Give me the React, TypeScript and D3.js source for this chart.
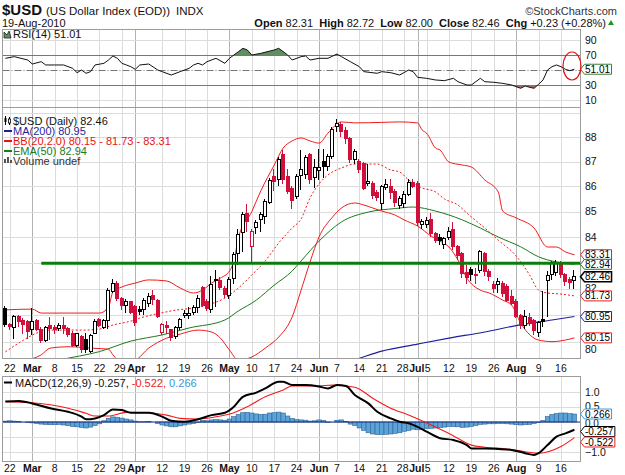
import React, { useRef, useEffect } from 'react'
import * as d3 from 'd3'

// one entry per trading session, 19-Feb-2010 .. 19-Aug-2010
const opens = [
  81.27, 80.65, 80.52, 80.94, 80.80, 80.78, 80.45, 80.80, 80.48, 80.05,
  80.60, 80.55, 80.50, 80.60, 80.50, 80.32, 79.85, 80.20, 80.10, 79.65,
  80.33, 80.85, 80.55, 80.80, 81.90, 82.20, 81.62, 81.35, 81.50, 81.33,
  81.20, 81.20, 81.45, 81.75, 81.55, 80.35, 80.62, 80.45, 80.20, 80.55,
  80.97, 80.98, 81.12, 81.28, 82.05, 81.50, 81.22, 82.30, 82.33, 82.00,
  81.75, 82.40, 83.35, 84.16, 84.92, 83.64, 84.38, 84.69, 84.82, 85.35,
  86.40, 86.27, 87.28, 86.40, 85.93, 85.60, 86.45, 86.47, 87.28, 86.35,
  86.62, 87.00, 86.82, 87.22, 88.42, 88.50, 88.25, 87.95, 87.10, 87.00,
  86.93, 86.10, 86.10, 85.75, 85.30, 85.95, 86.00, 85.78, 85.25, 85.30,
  85.68, 86.15, 86.10, 84.50, 84.50, 84.69, 84.12, 84.00, 83.70, 84.00,
  84.28, 83.62, 83.36, 82.62, 82.75, 82.55, 82.72, 83.36, 82.65, 82.15,
  82.15, 82.20, 82.10, 81.70, 81.50, 81.00, 80.62, 80.93, 80.80, 80.35,
  80.85, 82.30, 82.55, 82.62, 83.00, 82.53, 82.35, 82.31,
]
const highs = [
  81.35, 80.72, 81.02, 81.00, 80.90, 80.82, 81.28, 80.85, 80.55, 80.60,
  80.93, 80.65, 80.70, 80.95, 80.55, 80.40, 80.35, 80.25, 80.35, 80.30,
  80.85, 80.90, 80.85, 82.05, 82.38, 82.30, 81.70, 81.60, 81.55, 81.40,
  81.35, 81.65, 81.85, 81.97, 81.60, 80.70, 80.80, 80.50, 80.60, 80.90,
  81.20, 81.30, 81.40, 81.75, 82.10, 81.60, 82.50, 82.72, 82.45, 82.10,
  82.45, 83.40, 84.30, 85.00, 85.30, 84.30, 84.65, 85.00, 85.50, 86.35,
  86.70, 87.20, 87.45, 86.70, 86.00, 86.50, 87.45, 87.25, 87.35, 87.10,
  87.50, 87.50, 87.30, 88.40, 88.72, 88.60, 88.40, 88.00, 87.50, 87.10,
  87.00, 86.90, 86.20, 85.85, 86.05, 86.30, 86.30, 85.90, 85.60, 85.80,
  86.30, 86.30, 86.20, 84.70, 84.80, 84.95, 84.20, 84.10, 84.00, 84.40,
  84.60, 83.70, 83.40, 82.90, 82.85, 82.80, 83.50, 83.40, 82.75, 82.30,
  82.40, 82.30, 82.20, 81.95, 81.60, 81.05, 81.20, 81.10, 80.85, 80.80,
  81.90, 82.70, 83.05, 83.10, 83.05, 82.60, 82.45, 82.72,
]
const lows = [
  80.55, 80.45, 80.10, 80.55, 80.30, 80.10, 80.25, 80.40, 79.95, 80.00,
  80.07, 80.30, 80.40, 80.30, 80.20, 79.80, 79.80, 79.60, 79.58, 79.60,
  80.30, 80.55, 80.50, 80.50, 81.85, 81.55, 81.20, 81.10, 81.05, 80.60,
  81.00, 81.00, 81.30, 81.40, 80.90, 80.25, 80.30, 80.05, 80.10, 80.45,
  80.90, 80.85, 81.00, 81.10, 81.30, 81.15, 81.10, 81.30, 81.95, 81.65,
  81.60, 82.20, 82.90, 83.40, 84.20, 82.95, 84.10, 84.20, 84.50, 85.30,
  85.80, 86.00, 86.10, 85.70, 85.10, 85.50, 85.85, 86.30, 86.10, 85.95,
  86.27, 86.35, 86.60, 87.10, 88.20, 88.00, 87.70, 86.95, 86.90, 86.55,
  85.85, 86.00, 85.50, 85.40, 85.05, 85.85, 85.50, 85.20, 85.10, 85.15,
  85.60, 85.95, 84.45, 84.30, 84.35, 84.00, 83.75, 83.70, 83.55, 83.90,
  83.50, 83.10, 82.40, 82.20, 82.30, 82.20, 82.60, 82.50, 82.30, 81.85,
  81.83, 81.70, 81.50, 81.40, 80.90, 80.50, 80.50, 80.60, 80.25, 80.20,
  80.55, 80.95, 82.35, 82.50, 82.40, 82.10, 82.00, 82.00,
]
const closes = [
  80.64, 80.58, 80.96, 80.78, 80.64, 80.40, 80.77, 80.48, 80.05, 80.55,
  80.50, 80.45, 80.60, 80.50, 80.28, 79.85, 80.30, 79.70, 79.72, 80.25,
  80.77, 80.63, 80.80, 81.95, 82.20, 81.62, 81.35, 81.50, 81.10, 80.72,
  81.15, 81.55, 81.70, 81.60, 80.95, 80.64, 80.52, 80.15, 80.55, 80.85,
  81.05, 81.08, 81.28, 81.65, 81.38, 81.25, 82.15, 82.36, 82.05, 81.80,
  82.36, 83.33, 84.10, 84.90, 84.62, 84.22, 84.55, 84.88, 85.38, 86.25,
  86.20, 87.10, 86.27, 85.80, 85.45, 86.40, 86.68, 87.15, 86.27, 86.75,
  86.78, 86.80, 87.22, 88.30, 88.56, 88.22, 87.92, 87.10, 87.42, 86.68,
  85.93, 86.20, 85.63, 85.55, 86.00, 86.07, 85.75, 85.35, 85.50, 85.68,
  86.17, 86.00, 84.55, 84.62, 84.65, 84.12, 83.85, 83.88, 83.95, 84.20,
  83.62, 83.30, 82.60, 82.45, 82.53, 82.50, 83.42, 82.65, 82.47, 82.02,
  82.28, 81.83, 81.57, 81.45, 80.95, 80.62, 80.94, 80.70, 80.43, 80.72,
  80.75, 82.50, 82.98, 83.00, 82.55, 82.28, 82.23, 82.46,
]

// overlays as [session index, value]
const bbUpper = [
  [0, 81.2], [6, 81.23], [8, 81.08], [14, 81.08], [21, 81.08], [23, 81.3], [24, 81.88], [26, 82.07],
  [29, 82.22], [32, 82.34], [36, 82.3], [39, 82.03], [42, 81.84], [44, 81.95], [46, 82.22], [48, 82.41],
  [50, 82.68], [51, 83.07], [52, 83.96], [55, 85.0], [57, 85.82], [60, 86.86], [62, 87.55], [64, 87.84],
  [66, 87.96], [68, 87.84], [70, 87.75], [72, 88.16], [75, 88.62], [78, 88.58], [84, 88.6], [88, 88.62],
  [92, 88.58], [93, 88.29], [94, 88.16], [96, 87.55], [97, 87.47], [99, 86.98], [102, 86.86], [104, 86.78],
  [107, 86.26], [110, 85.78], [111, 85.02], [114, 84.75], [118, 84.35], [121, 83.61], [123, 83.61],
  [125, 83.42], [127, 83.31],
]
const bbMid = [
  [0, 79.63], [3, 79.96], [7, 80.33], [9, 80.44], [12, 80.44], [17, 80.44], [21, 80.48], [24, 80.63],
  [28, 80.78], [30, 80.89], [37, 81.16], [45, 81.38], [49, 81.65], [52, 82.03], [55, 82.53], [58, 83.07],
  [61, 83.77], [64, 84.35], [66, 84.71], [68, 85.54], [70, 86.1], [72, 86.46], [75, 86.74], [78, 86.9],
  [83, 86.9], [86, 86.66], [88, 86.58], [90, 86.26], [93, 85.94], [96, 85.78], [98, 85.5], [101, 85.26],
  [103, 84.94], [107, 84.35], [110, 83.88], [114, 83.26], [117, 82.53], [119, 81.95], [121, 81.84],
  [124, 81.8], [127, 81.73],
]
const bbLower = [
  [0, 79.2], [4, 79.3], [8, 79.52], [10, 79.77], [14, 79.82], [20, 79.76], [23, 79.73], [24, 79.52],
  [26, 79.25], [29, 79.33], [32, 79.77], [36, 80.14], [39, 80.29], [43, 80.44], [46, 80.37], [48, 80.14],
  [50, 79.7], [52, 79.33], [55, 79.44], [58, 79.77], [61, 80.18], [64, 80.93], [66, 81.95], [68, 83.03],
  [70, 84.0], [73, 84.78], [75, 85.14], [78, 85.34], [80, 85.26], [82, 85.14], [84, 85.02], [87, 84.86],
  [89, 84.67], [92, 84.43], [95, 84.04], [97, 83.84], [99, 83.61], [101, 83.11], [103, 82.41], [106, 81.95],
  [108, 81.84], [111, 81.57], [113, 81.38], [115, 80.71], [118, 80.14], [119, 80.07], [122, 80.01],
  [125, 80.07], [127, 80.15],
]
const ema50 = [
  [8, 79.18], [12, 79.33], [21, 79.64], [28, 80.03], [35, 80.26], [41, 80.52], [49, 80.82], [52, 81.16],
  [56, 81.57], [60, 82.14], [64, 82.68], [66, 83.07], [70, 83.84], [75, 84.59], [81, 84.98], [87, 85.12],
  [91, 85.18], [96, 85.02], [102, 84.67], [106, 84.35], [110, 84.0], [115, 83.62], [119, 83.23],
  [123, 83.03], [127, 82.94],
]
const ma200 = [
  [70, 79.06], [77, 79.29], [84, 79.66], [92, 79.92], [99, 80.14], [107, 80.37], [114, 80.61],
  [122, 80.82], [127, 80.95],
]
const rsi14 = [
  [0, 65.6], [2, 67.8], [5, 63.3], [6, 58], [8, 61.1], [9, 56.7], [11, 56.7], [13, 56.7], [15, 52.2],
  [16, 46.4], [17, 50], [18, 45.6], [19, 47.8], [20, 56.7], [22, 58.9], [23, 63.3], [24, 68.7], [25, 65.6],
  [26, 58.9], [27, 56.7], [28, 54.4], [29, 50.9], [30, 56.7], [32, 58], [34, 50], [35, 47.8], [37, 43.3],
  [39, 47.8], [41, 52.2], [42, 56.7], [43, 58.9], [44, 56.7], [45, 61.1], [47, 65.6], [49, 58.9],
  [50, 65.6], [52, 74.4], [53, 78.9], [54, 76.7], [55, 70], [57, 72.2], [60, 76.7], [61, 78.9], [63, 70],
  [64, 63.3], [66, 67.8], [67, 68.7], [68, 63.3], [70, 65.6], [72, 65.6], [74, 71.3], [75, 67.8],
  [77, 61.1], [79, 54.4], [80, 47.8], [83, 45.6], [84, 47.8], [86, 46.4], [88, 43.3], [90, 50], [91, 47.8],
  [92, 40.2], [94, 38.9], [96, 36.7], [98, 35.8], [100, 38.9], [101, 34.4], [103, 30], [104, 30],
  [106, 38.9], [107, 34.4], [109, 33.6], [111, 32.2], [113, 30], [115, 25.6], [116, 28.7], [117, 26.9],
  [118, 25.6], [119, 30.9], [120, 36.7], [121, 50], [122, 54.4], [123, 56.7], [124, 54.4], [125, 50.9],
  [126, 49.1], [127, 51.01],
]
const macdLine = [
  [0, 0.68], [3, 0.7], [6, 0.62], [10, 0.46], [14, 0.34], [17, 0.18], [18, 0.09], [20, 0.12], [22, 0.23],
  [24, 0.42], [26, 0.4], [28, 0.31], [32, 0.31], [35, 0.18], [37, 0.04], [40, 0.01], [43, 0.09], [46, 0.23],
  [49, 0.31], [51, 0.51], [53, 0.84], [56, 0.98], [58, 1.12], [61, 1.34], [62, 1.34], [64, 1.23], [67, 1.23],
  [70, 1.18], [72, 1.12], [74, 1.23], [76, 1.2], [78, 0.9], [81, 0.62], [83, 0.34], [86, 0.12], [88, 0.01],
  [90, -0.04], [92, -0.16], [94, -0.32], [97, -0.54], [100, -0.6], [103, -0.77], [104, -0.88], [107, -0.88],
  [110, -0.9], [113, -0.93], [116, -1.04], [118, -1.1], [119, -1.04], [121, -0.77], [123, -0.49],
  [125, -0.38], [127, -0.257],
]
const macdSignal = [
  [0, 0.68], [6, 0.64], [14, 0.46], [18, 0.29], [20, 0.2], [23, 0.2], [27, 0.32], [32, 0.31], [36, 0.23],
  [39, 0.12], [43, 0.1], [48, 0.2], [51, 0.31], [54, 0.51], [58, 0.84], [62, 1.07], [64, 1.2], [70, 1.2],
  [73, 1.23], [78, 1.16], [82, 0.79], [86, 0.46], [90, 0.23], [95, -0.1], [99, -0.38], [104, -0.77],
  [107, -0.84], [112, -0.9], [116, -0.99], [119, -1.04], [124, -0.82], [127, -0.522],
]
const macdHist = [
  0.03, 0.04, 0.03, 0.02, 0.00, -0.02, -0.03, -0.05, -0.07, -0.08,
  -0.09, -0.09, -0.08, -0.10, -0.12, -0.15, -0.16, -0.18, -0.20, -0.17,
  -0.12, -0.06, 0.04, 0.12, 0.17, 0.16, 0.13, 0.10, 0.07, 0.03,
  0.01, 0.01, 0.02, 0.00, -0.05, -0.10, -0.13, -0.16, -0.16, -0.13,
  -0.10, -0.07, -0.05, -0.02, 0.05, 0.04, 0.07, 0.08, 0.07, 0.06,
  0.10, 0.18, 0.25, 0.31, 0.32, 0.30, 0.27, 0.25, 0.26, 0.30,
  0.31, 0.33, 0.30, 0.20, 0.12, 0.08, 0.07, 0.06, 0.03, 0.04,
  0.07, 0.05, -0.02, 0.00, 0.06, 0.07, 0.02, -0.07, -0.12, -0.20,
  -0.28, -0.36, -0.40, -0.42, -0.42, -0.41, -0.40, -0.38, -0.36, -0.31,
  -0.28, -0.24, -0.26, -0.25, -0.22, -0.21, -0.20, -0.19, -0.17, -0.15,
  -0.15, -0.16, -0.18, -0.17, -0.15, -0.12, -0.08, -0.07, -0.06, -0.06,
  -0.05, -0.05, -0.06, -0.07, -0.09, -0.10, -0.09, -0.08, -0.05, -0.02,
  0.05, 0.18, 0.25, 0.28, 0.30, 0.30, 0.28, 0.266,
]

const supportLevel = 82.98
const supportStart = 8

const tickIdx = [1, 6, 11, 16, 21, 26, 29, 35, 40, 45, 50, 55, 60, 65, 70, 74, 79, 84, 89, 92, 94, 99, 104, 109, 114, 119, 124]
const tickText = ['22', 'Mar', '8', '15', '22', '29', 'Apr', '12', '19', '26', 'May', '10', '17', '24', 'Jun', '7', '14', '21', '28', 'Jul', '5', '12', '19', '26', 'Aug', '9', '16']
// price labels that are not covered by the value tags
const priceTicks = [80, 82, 84, 85, 86, 87, 88]
const priceGrid = [80, 81, 82, 83, 84, 85, 86, 87, 88, 89]
const rsiTicks = [10, 30, 70, 90]
const macdGrid = [-1, -0.5, 0, 0.5, 1]
const macdTicks = [-1, 0, 0.5, 1]

const FONT = 'Liberation Sans, Arial, Helvetica, sans-serif'
const CANDLE_RED = '#d0103a'
const BAND_RED = '#f01c1c'
const NAVY = '#1f1f9a'
const GREEN = '#1d7a1d'

// small horizontal shifts for date labels that crowd each other
const labelNudge: Record<number, number> = { 5: -2, 6: 1, 18: -1.5, 19: -0.8, 20: 1.2 }

export default function App() {
  const ref = useRef<SVGSVGElement>(null)

  useEffect(() => {
    const svg = d3.select(ref.current)
    svg.selectAll('*').remove()
    svg.attr('font-family', FONT)

    const L = 2.5, R = 580.5
    const panels = [
      { id: 'rsi', top: 29.5, bot: 107.5 },
      { id: 'main', top: 107.5, bot: 358.5 },
      { id: 'macd', top: 376.5, bot: 461.5 },
    ]

    const x = d3.scaleLinear().domain([0, 127]).range([5.4, 574.4])
    const yP = d3.scaleLog().domain([80, 88]).range([341.9, 137])
    const yR = d3.scaleLinear().domain([0, 100]).range([107.5, 32.5])
    const yM = d3.scaleLinear().domain([-1, 1]).range([452, 392])
    const gx = (i: number) => Math.round(x(i)) + 0.5
    const isMonth = (k: number) => isNaN(+tickText[k])

    svg.append('rect').attr('width', 625).attr('height', 475).attr('fill', '#fff')

    const defs = svg.append('defs')
    panels.forEach(p => {
      defs.append('clipPath').attr('id', 'clip-' + p.id)
        .append('rect').attr('x', L).attr('y', p.top).attr('width', R - L).attr('height', p.bot - p.top)
    })

    // grids
    const grid = svg.append('g').attr('shape-rendering', 'crispEdges')
    panels.forEach(p => {
      grid.append('g').selectAll('line').data(tickIdx).join('line')
        .attr('x1', d => gx(d)).attr('x2', d => gx(d))
        .attr('y1', p.top).attr('y2', p.bot)
        .attr('stroke', (d, k) => isMonth(k) ? '#b2b2b2' : '#dcdcdc')
    })
    grid.append('g').selectAll('line').data(priceGrid).join('line')
      .attr('x1', L).attr('x2', R)
      .attr('y1', d => Math.round(yP(d)) + 0.5).attr('y2', d => Math.round(yP(d)) + 0.5)
      .attr('stroke', '#dcdcdc')
    grid.append('g').selectAll('line').data([10, 90]).join('line')
      .attr('x1', L).attr('x2', R)
      .attr('y1', d => Math.round(yR(d)) + 0.5).attr('y2', d => Math.round(yR(d)) + 0.5)
      .attr('stroke', '#dcdcdc')
    grid.append('g').selectAll('line').data(macdGrid).join('line')
      .attr('x1', L).attr('x2', R)
      .attr('y1', d => Math.round(yM(d)) + 0.5).attr('y2', d => Math.round(yM(d)) + 0.5)
      .attr('stroke', '#dcdcdc')

    // ---- RSI panel
    const rsiG = svg.append('g').attr('clip-path', 'url(#clip-rsi)')
    const rsiArea = (base: number) => d3.area<number[]>()
      .x(d => x(d[0])).y0(yR(base)).y1(d => yR(d[1]))
    defs.append('clipPath').attr('id', 'rsi-hi').append('rect')
      .attr('x', L).attr('y', 29.5).attr('width', R - L).attr('height', yR(70) - 29.5)
    defs.append('clipPath').attr('id', 'rsi-lo').append('rect')
      .attr('x', L).attr('y', yR(30)).attr('width', R - L).attr('height', 107.5 - yR(30))
    rsiG.append('path').datum(rsi14).attr('d', rsiArea(70))
      .attr('fill', '#5f8f5f').attr('clip-path', 'url(#rsi-hi)')
    rsiG.append('path').datum(rsi14).attr('d', rsiArea(30))
      .attr('fill', '#a46a6a').attr('clip-path', 'url(#rsi-lo)')
    rsiG.selectAll('line.lvl').data([70, 30]).join('line')
      .attr('x1', L).attr('x2', R)
      .attr('y1', d => Math.round(yR(d)) + 0.5).attr('y2', d => Math.round(yR(d)) + 0.5)
      .attr('stroke', '#777').attr('shape-rendering', 'crispEdges')
    rsiG.append('line').attr('x1', L).attr('x2', R)
      .attr('y1', Math.round(yR(50)) + 0.5).attr('y2', Math.round(yR(50)) + 0.5)
      .attr('stroke', '#777').attr('stroke-dasharray', '7,2,1,2')
    rsiG.append('path').datum(rsi14)
      .attr('d', d3.line<number[]>().x(d => x(d[0])).y(d => yR(d[1])))
      .attr('fill', 'none').attr('stroke', '#111').attr('stroke-width', 1)

    // ---- main price panel
    const mainG = svg.append('g').attr('clip-path', 'url(#clip-main)')
    const pLine = d3.line<number[]>().x(d => x(d[0])).y(d => yP(d[1])).curve(d3.curveMonotoneX)
    mainG.append('path').datum(ma200).attr('d', pLine)
      .attr('fill', 'none').attr('stroke', NAVY).attr('stroke-width', 1.2)
    mainG.append('path').datum(ema50).attr('d', pLine)
      .attr('fill', 'none').attr('stroke', GREEN).attr('stroke-width', 1)
    mainG.append('path').datum(bbUpper).attr('d', pLine)
      .attr('fill', 'none').attr('stroke', BAND_RED).attr('stroke-width', 1)
    mainG.append('path').datum(bbLower).attr('d', pLine)
      .attr('fill', 'none').attr('stroke', BAND_RED).attr('stroke-width', 1)
    mainG.append('path').datum(bbMid).attr('d', pLine)
      .attr('fill', 'none').attr('stroke', BAND_RED).attr('stroke-width', 1).attr('stroke-dasharray', '2,2')

    const candles = d3.range(opens.length).map(i => ({
      i, o: opens[i], h: highs[i], l: lows[i], c: closes[i],
      red: i > 0 && closes[i] < closes[i - 1],
      hollow: closes[i] >= opens[i],
    }))
    const cg = mainG.append('g').attr('shape-rendering', 'crispEdges')
    cg.selectAll('line').data(candles).join('line')
      .attr('x1', d => Math.round(x(d.i)) - 0.5).attr('x2', d => Math.round(x(d.i)) - 0.5)
      .attr('y1', d => yP(d.h)).attr('y2', d => yP(d.l))
      .attr('stroke', d => d.red ? CANDLE_RED : '#000')
    cg.selectAll('rect').data(candles).join('rect')
      .attr('x', d => Math.round(x(d.i)) - 1.5)
      .attr('width', 3)
      .attr('y', d => yP(Math.max(d.o, d.c)))
      .attr('height', d => Math.max(1, yP(Math.min(d.o, d.c)) - yP(Math.max(d.o, d.c))))
      .attr('fill', d => d.hollow ? '#fff' : (d.red ? CANDLE_RED : '#000'))
      .attr('stroke', d => d.red ? CANDLE_RED : '#000')

    mainG.append('line')
      .attr('x1', x(supportStart)).attr('x2', R)
      .attr('y1', yP(supportLevel)).attr('y2', yP(supportLevel))
      .attr('stroke', '#0a7d0a').attr('stroke-width', 3.2)

    // ---- MACD panel
    const macdG = svg.append('g').attr('clip-path', 'url(#clip-macd)')
    const bw = x(1) - x(0)
    macdG.append('g').selectAll('rect').data(macdHist).join('rect')
      .attr('x', (d, i) => x(i) - bw / 2)
      .attr('width', bw)
      .attr('y', d => Math.min(yM(d), yM(0)))
      .attr('height', d => Math.abs(yM(d) - yM(0)))
      .attr('fill', '#5ba3d8').attr('stroke', '#2d6597').attr('stroke-width', 0.6)
    macdG.append('line').attr('x1', L).attr('x2', R)
      .attr('y1', yM(0)).attr('y2', yM(0)).attr('stroke', '#1a2f86').attr('stroke-width', 1.2)
    const mLine = d3.line<number[]>().x(d => x(d[0])).y(d => yM(d[1])).curve(d3.curveMonotoneX)
    macdG.append('path').datum(macdSignal).attr('d', mLine)
      .attr('fill', 'none').attr('stroke', '#f21c1c').attr('stroke-width', 1.1)
    macdG.append('path').datum(macdLine).attr('d', mLine)
      .attr('fill', 'none').attr('stroke', '#000').attr('stroke-width', 2)

    // panel borders
    svg.append('g').selectAll('rect').data(panels).join('rect')
      .attr('x', L).attr('y', d => d.top).attr('width', R - L).attr('height', d => d.bot - d.top)
      .attr('fill', 'none').attr('stroke', '#9c9c9c').attr('shape-rendering', 'crispEdges')

    // date labels under price panel and under MACD panel
    ;[372, 472].forEach(yb => {
      svg.append('g').selectAll('text').data(tickIdx).join('text')
        .attr('x', (d, k) => x(d) + (labelNudge[k] || 0)).attr('y', yb)
        .attr('text-anchor', 'middle').attr('font-size', 10.5)
        .attr('font-weight', (d, k) => isMonth(k) ? 'bold' : 'normal')
        .attr('fill', '#111')
        .text((d, k) => tickText[k])
    })

    // right-hand scale labels
    const right = svg.append('g').attr('font-size', 10.5).attr('fill', '#111')
    right.append('g').selectAll('text').data(priceTicks).join('text')
      .attr('x', 585).attr('y', d => d === 80 ? yP(d) + 11 : yP(d) + 3.5).text(d => d)
    right.append('g').selectAll('text').data(rsiTicks).join('text')
      .attr('x', 585).attr('y', d => yR(d) + 3.5).text(d => d)
    right.append('g').selectAll('text').data(macdTicks).join('text')
      .attr('x', 585).attr('y', d => d === 0 ? yM(d) + 4.5 : d === 0.5 ? yM(d) + 2.5 : yM(d) + 3.5)
      .attr('font-size', d => d === 0 ? 10 : 10.5)
      .text(d => d3.format('.1f')(d))

    // value tags on the right edge
    const tag = (yc: number, label: string, color: string, sw = 1) => {
      const g = svg.append('g')
      const path = g.append('path').attr('fill', '#fff').attr('stroke', color).attr('stroke-width', sw)
      const t = g.append('text').attr('x', 585).attr('y', yc + 3.5).attr('font-size', 10)
        .attr('fill', '#000').text(label)
      const w = (t.node() as SVGTextElement).getComputedTextLength()
      const x0 = 580.5, x1 = 585 + w + 1.5
      path.attr('d', `M${x0},${yc} L${x0 + 4},${yc - 5} H${x1} V${yc + 5} H${x0 + 4} Z`)
    }
    tag(yR(51.01), '51.01', '#3c7f3c')
    tag(yP(83.31), '83.31', BAND_RED)
    tag(yP(82.94), '82.94', GREEN)
    tag(yP(82.46), '82.46', '#000', 1.5)
    tag(yP(81.73), '81.73', BAND_RED)
    tag(yP(80.95), '80.95', NAVY)
    tag(yP(80.15), '80.15', BAND_RED)
    tag(yM(0.266), '0.266', '#3a9ad6')
    const tagLow = Math.max(yM(-0.257), 431.5)
    tag(tagLow, '-0.257', '#000')
    tag(Math.max(yM(-0.522), tagLow + 10.5), '-0.522', '#f01c1c')

    // red ring drawn round the latest RSI reading
    svg.append('ellipse').attr('cx', 572).attr('cy', 66).attr('rx', 9).attr('ry', 14)
      .attr('fill', 'none').attr('stroke', '#e41010').attr('stroke-width', 1.2)

    // header
    const head = svg.append('text').attr('x', 2).attr('y', 15).attr('fill', '#111')
    head.append('tspan').attr('font-size', 15).attr('font-weight', 'bold').text('$USD')
    head.append('tspan').attr('font-size', 11.5).attr('dx', 4).text('(US Dollar Index (EOD))')
    head.append('tspan').attr('font-size', 11.5).attr('dx', 6).text('INDX')
    svg.append('text').attr('x', 617).attr('y', 15).attr('text-anchor', 'end')
      .attr('font-size', 11).attr('fill', '#333').text('©StockCharts.com')
    svg.append('text').attr('x', 2).attr('y', 27).attr('font-size', 11).attr('fill', '#111').text('19-Aug-2010')

    const quote = svg.append('text').attr('x', 606).attr('y', 27).attr('text-anchor', 'end')
      .attr('font-size', 11).attr('fill', '#111').style('white-space', 'pre')
    const parts = [['Open', ' 82.31  '], ['High', ' 82.72  '], ['Low', ' 82.00  '], ['Close', ' 82.46  '], ['Chg', ' +0.23 (+0.28%)']]
    parts.forEach(([k, v]) => {
      quote.append('tspan').attr('font-weight', 'bold').text(k)
      quote.append('tspan').text(v)
    })
    svg.append('path').attr('d', 'M608,25 L614,25 L611,20 Z').attr('fill', '#1a9a1a')

    // RSI legend
    svg.append('path').attr('d', 'M4,38 L4,32 L7,35 L9,31 L11,38 Z')
      .attr('fill', '#5f8f5f').attr('stroke', '#222').attr('stroke-width', 0.8)
    svg.append('text').attr('x', 13).attr('y', 38).attr('font-size', 11).attr('fill', '#111').text('RSI(14) 51.01')

    // price panel legend
    const leg = svg.append('g').attr('font-size', 11)
    const items = [
      { t: '$USD (Daily) 82.46', c: '#111', y: 124.5 },
      { t: 'MA(200) 80.95', c: NAVY, y: 134.5 },
      { t: 'BB(20,2.0) 80.15 - 81.73 - 83.31', c: '#e81414', y: 144.5 },
      { t: 'EMA(50) 82.94', c: GREEN, y: 154.5 },
      { t: 'Volume undef', c: '#333', y: 164.5 },
    ]
    leg.selectAll('text').data(items).join('text')
      .attr('x', 13).attr('y', d => d.y).attr('fill', d => d.c).text(d => d.t)
    leg.selectAll('line.key').data(items.slice(1, 4)).join('line')
      .attr('x1', 4).attr('x2', 12).attr('y1', d => d.y - 3.5).attr('y2', d => d.y - 3.5)
      .attr('stroke', d => d.c).attr('stroke-width', 2)
    leg.append('line').attr('x1', 5.5).attr('x2', 5.5).attr('y1', 116).attr('y2', 125).attr('stroke', '#000')
    leg.append('rect').attr('x', 4.5).attr('y', 118).attr('width', 2).attr('height', 4).attr('fill', '#000')
    leg.append('line').attr('x1', 9.5).attr('x2', 9.5).attr('y1', 117).attr('y2', 125).attr('stroke', '#000')
    leg.append('rect').attr('x', 8.5).attr('y', 119).attr('width', 2).attr('height', 4).attr('fill', '#fff').attr('stroke', '#000').attr('stroke-width', 0.8)
    leg.selectAll('rect.vol').data([4, 6, 3]).join('rect')
      .attr('x', (d, k) => 4 + k * 3).attr('y', d => 165 - d - 2).attr('width', 2).attr('height', d => d)
      .attr('fill', '#555')

    // MACD legend
    svg.append('line').attr('x1', 4).attr('x2', 12).attr('y1', 382.5).attr('y2', 382.5)
      .attr('stroke', '#000').attr('stroke-width', 2)
    const ml = svg.append('text').attr('x', 15).attr('y', 386.5).attr('font-size', 11).style('white-space', 'pre')
    ml.append('tspan').attr('fill', '#111').text('MACD(12,26,9) -0.257, ')
    ml.append('tspan').attr('fill', '#f01c1c').text('-0.522, ')
    ml.append('tspan').attr('fill', '#2f9ad8').text('0.266')
  }, [])

  return (
    <svg ref={ref} width={625} height={475}
      style={{ position: 'absolute', left: 0, top: 0, display: 'block' }} />
  )
}
